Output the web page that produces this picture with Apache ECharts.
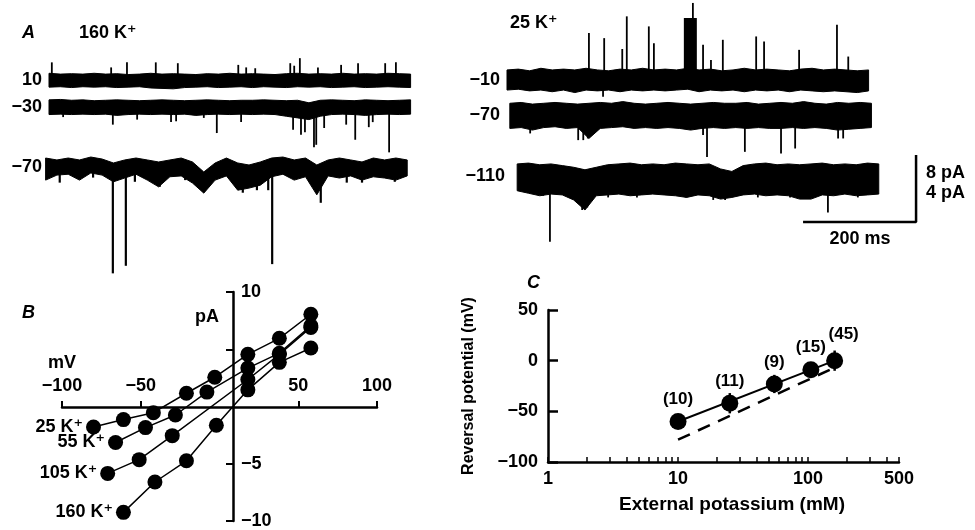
<!DOCTYPE html>
<html>
<head>
<meta charset="utf-8">
<title>K+ channel currents</title>
<script src="https://cdn.jsdelivr.net/npm/echarts@6/dist/echarts.min.js"></script>
<style>
  html, body { margin: 0; padding: 0; background: #fff; }
  #chart { width: 975px; height: 530px; }
</style>
</head>
<body>
<div id="chart"></div>
<script>
// ---------- panel A: single channel records ----------
// band edges (pA from the trace baseline) sampled every 20 ms, spikes as [ms, pA]
const SAMPLE_MS = 20;

// 160 K+ : holding 10, -30, -70
const leftLabels = ['10', '\u221230', '\u221270'];
const leftStart = [0, 0, -6];
const l10Up = [0.8,0.7,0.75,0.7,0.8,0.7,0.75,0.65,0.7,0.8,0.7,0.75,0.7,0.65,0.75,0.7,0.8,0.7,0.75,0.7,0.65,0.75,0.8,0.7,0.75,0.7,0.8,0.7,0.75,0.7,0.8,0.75,0.7];
const l10Lo = [-0.85,-0.8,-0.9,-0.8,-0.85,-0.8,-0.9,-0.85,-0.8,-0.95,-1.0,-1.05,-0.9,-0.85,-0.8,-0.9,-0.85,-0.8,-0.9,-0.8,-0.85,-0.9,-0.8,-0.85,-0.8,-0.9,-0.85,-0.8,-0.9,-0.85,-0.8,-0.85,-0.9];
const l10Spikes = [[5,2.1],[110,1.5],[138,2.1],[189,2.1],[228,2.0],[335,1.8],[349,1.5],[365,1.4],[427,2.0],[434,1.7],[444,2.6],[476,1.5],[517,1.8],[547,2.0],[595,2.0],[614,2.1]];
const l30Up = [0.85,0.9,0.8,0.85,0.75,0.8,0.85,0.8,0.75,0.8,0.85,0.8,0.75,0.8,0.85,0.8,0.75,0.8,0.8,0.85,0.8,0.75,0.8,0.5,0.8,0.85,0.8,0.75,0.85,0.8,0.75,0.8,0.85];
const l30Lo = [-0.9,-0.85,-0.9,-0.85,-0.9,-0.85,-1.0,-0.9,-0.85,-0.9,-0.85,-0.9,-0.85,-1.0,-0.9,-0.85,-0.9,-0.85,-0.9,-0.85,-0.9,-1.1,-1.3,-1.5,-1.1,-0.9,-0.85,-0.9,-1.0,-0.9,-0.85,-0.9,-0.85];
const l30Spikes = [[25,-1.2],[113,-2.1],[156,-1.5],[216,-1.8],[225,-1.7],[274,-1.3],[297,-3.1],[340,-1.8],[432,-2.7],[446,-3.3],[453,-3.0],[469,-4.8],[473,-4.5],[487,-2.5],[526,-2.1],[542,-3.9],[566,-2.4],[573,-1.8],[602,-5.4]];
const l70Up = [0.83,0.6,0.83,0.6,0.95,0.71,0.24,0.6,0.83,0.6,0.36,0.6,0.83,0.36,-0.83,0.24,0.83,0.24,0,0.36,0.83,0.95,0.6,0.83,0,0.6,0.83,0.6,0.36,0.83,0.6,0.83,0.6];
const l70Lo = [-1.8,-1.2,-1.1,-1.8,-0.95,-1.2,-2.0,-1.55,-1.1,-1.8,-2.6,-1.4,-1.3,-2.15,-3.35,-1.8,-1.3,-3.0,-2.75,-2.4,-1.4,-1.1,-1.8,-1.4,-3.55,-1.3,-1.55,-1.3,-1.8,-1.4,-1.55,-1.8,-1.3];
const l70Spikes = [[19,-2.1],[78,-1.5],[113,-12.9],[136,-12.0],[152,-2.0],[196,-2.6],[241,-1.8],[343,-3.3],[368,-3.0],[388,-3.0],[395,-11.8],[481,-4.5],[527,-2.1],[554,-2.1],[612,-2.0]];

// 25 K+ : holding -10, -70, -110
const rightLabels = ['\u221210', '\u221270', '\u2212110'];
const rightStart = [0, 5, 18];
const r10Up = [0.6,0.65,0.55,0.7,0.6,0.65,0.6,0.7,0.6,0.55,0.65,0.6,0.7,0.6,0.65,0.6,0.7,0.6,0.65,0.55,0.6,0.7,0.6,0.65,0.6,0.55,0.65,0.7,0.6,0.65,0.6,0.55,0.6];
const r10Lo = [-0.6,-0.55,-0.65,-0.6,-0.7,-0.6,-0.75,-0.6,-0.65,-0.6,-0.7,-0.6,-0.65,-0.6,-0.65,-0.6,-0.55,-0.7,-0.6,-0.65,-0.6,-0.7,-0.6,-0.65,-0.6,-0.7,-0.6,-0.65,-0.7,-0.65,-0.7,-0.75,-0.65];
const r10Spikes = [[145,2.8],[170,-1.0],[172,2.5],[204,1.85],[212,3.8],[251,3.2],[260,2.2],[329,4.6],[347,2.1],[361,1.2],[382,2.4],[441,2.6],[455,2.3],[517,1.8],[584,3.3],[604,1.4]];
const r10Burst = [[313, 336, 3.7]];   // [from ms, to ms, pA]
const r70Up = [0.7,0.75,0.65,0.7,0.75,0.7,0.65,0.7,0.75,0.7,0.8,0.7,0.65,0.7,0.75,0.7,0.65,0.7,0.75,0.7,0.7,0.75,0.65,0.7,0.75,0.7,0.8,0.7,0.65,0.75,0.7,0.75,0.7];
const r70Lo = [-0.8,-0.75,-0.9,-0.75,-0.7,-0.8,-0.75,-1.4,-0.8,-0.75,-0.7,-0.8,-0.75,-0.8,-0.75,-0.8,-0.9,-0.8,-0.75,-0.8,-0.75,-0.8,-0.75,-0.8,-0.8,-0.75,-0.8,-0.75,-0.8,-0.9,-0.85,-0.8,-0.75];
const r70Spikes = [[41,-1.1],[126,-1.5],[135,-1.5],[143,-1.4],[347,-1.2],[354,-2.5],[421,-2.2],[485,-2.3],[510,-2.0],[586,-1.4],[595,-1.4]];
const r110Up = [0.9,0.95,0.85,0.9,0.8,0.7,0.55,0.7,0.85,0.9,0.95,0.85,0.9,0.85,0.95,0.9,0.85,0.9,0.6,0.45,0.8,0.9,0.95,0.85,0.9,0.85,0.9,0.95,0.85,0.9,0.85,0.95,0.9];
const r110Lo = [-0.7,-0.85,-1.0,-0.9,-0.95,-1.25,-1.85,-1.0,-0.95,-0.9,-1.0,-0.95,-0.9,-0.95,-1.0,-1.1,-0.95,-1.0,-1.2,-1.1,-0.95,-0.9,-1.0,-0.95,-1.0,-1.2,-1.2,-0.95,-1.0,-0.9,-1.0,-0.95,-0.9];
const r110Spikes = [[64,-1.0],[76,-3.75],[133,-1.85],[142,-1.7],[179,-1.1],[230,-1.1],[317,-1.1],[365,-1.25],[386,-1.25],[444,-1.1],[501,-1.1],[568,-2.0],[621,-1.1]];

const scaleBar = [200, 4];   // ms, pA (8 pA for the 160 K+ records)

// ---------- panel B: I-V relations ----------
const ivNames = ['25 K\u207a', '55 K\u207a', '105 K\u207a', '160 K\u207a'];
const ivMv25 = [-80, -61, -42, -21, -3, 18, 38, 58];
const ivPa25 = [-1.75, -1.1, -0.5, 1.2, 2.6, 4.6, 6.0, 8.1];
const ivMv55 = [-66, -47, -28, -8, 18, 38, 58];
const ivPa55 = [-3.1, -1.8, -0.7, 1.3, 3.4, 4.7, 7.1];
const ivMv105 = [-71, -51, -30, 18, 38, 58];
const ivPa105 = [-5.8, -4.6, -2.5, 2.4, 4.6, 6.95];
const ivMv160 = [-61, -41, -21, -2, 18, 38, 58];
const ivPa160 = [-9.2, -6.55, -4.7, -1.6, 1.5, 3.9, 5.15];

// ---------- panel C: reversal potential vs [K]o ----------
const kOut = [10, 25, 55, 105, 160];
const eRev = [-60, -42, -23, -9, 0];
const eRevErr = [0, 10, 9, 7, 10];
const nCells = ['(10)', '(11)', '(9)', '(15)', '(45)'];
const fitLine = [[10, -60], [160, 0]];
const nernstLine = [[10, -78], [165, -6]];
const kTickLabels = [1, 10, 100, 500];
const kMinorTicks = [2, 3, 4, 5, 6, 7, 8, 9, 20, 30, 40, 50, 60, 70, 80, 90, 200, 300, 400];

// ---------- layout ----------
const INK = '#000';
const FONT = '"Liberation Sans", "DejaVu Sans", Arial, sans-serif';
const PX_MS = 113 / 200;          // scale bar width / 200 ms
const PX_PA_L = 8.4, PX_PA_R = 16.75;
const leftBase = [0, -27 / PX_PA_L, -85 / PX_PA_L];
const rightBase = [0, -35 / PX_PA_R, -99 / PX_PA_R];

// whole noise band of one record as a single polygon
function bandSeries(ax, t0, up, lo, base) {
  const data = up.map((u, i) => [t0 + SAMPLE_MS * i, base + u, base + lo[i]]);
  return {
    type: 'custom', xAxisIndex: ax, yAxisIndex: ax, silent: true, clip: false,
    encode: { x: 0, y: [1, 2] },
    data: data,
    renderItem: function (params, api) {
      if (params.dataIndex !== 0) return null;
      const top = data.map(d => api.coord([d[0], d[1]]));
      const bot = data.map(d => api.coord([d[0], d[2]])).reverse();
      return { type: 'polygon', shape: { points: top.concat(bot) }, style: { fill: INK, stroke: INK, lineWidth: 1 } };
    }
  };
}

function spikeSeries(ax, spikes, base, width) {
  return {
    type: 'custom', xAxisIndex: ax, yAxisIndex: ax, silent: true, clip: false,
    encode: { x: 0, y: [1, 2] },
    data: spikes.map(s => [s[0], base, base + s[1]]),
    renderItem: function (params, api) {
      const a = api.coord([api.value(0), api.value(1)]);
      const b = api.coord([api.value(0), api.value(2)]);
      return { type: 'line', shape: { x1: a[0], y1: a[1], x2: b[0], y2: b[1] }, style: { stroke: INK, lineWidth: width || 1.8 } };
    }
  };
}

function burstSeries(ax, bursts, base) {
  return {
    type: 'custom', xAxisIndex: ax, yAxisIndex: ax, silent: true,
    data: bursts.map(b => [b[0], b[1], base, base + b[2]]),
    renderItem: function (params, api) {
      const p0 = api.coord([api.value(0), api.value(3)]);
      const p1 = api.coord([api.value(1), api.value(2)]);
      return { type: 'rect', shape: { x: p0[0], y: p0[1], width: p1[0] - p0[0], height: p1[1] - p0[1] }, style: { fill: INK } };
    }
  };
}

function txt(x, y, text, o) {
  o = o || {};
  return {
    type: 'text', x: x, y: y, rotation: o.rot || 0, silent: true,
    style: {
      text: text, fill: INK, align: o.align || 'left', verticalAlign: 'middle',
      font: (o.italic ? 'italic ' : '') + 'bold ' + (o.size || 18) + 'px ' + FONT
    }
  };
}

const series = [];
const leftUp = [l10Up, l30Up, l70Up], leftLo = [l10Lo, l30Lo, l70Lo], leftSpk = [l10Spikes, l30Spikes, l70Spikes];
for (let i = 0; i < 3; i++) {
  series.push(bandSeries(0, leftStart[i], leftUp[i], leftLo[i], leftBase[i]));
  series.push(spikeSeries(0, leftSpk[i], leftBase[i], i === 2 ? 2.2 : 1.8));
}
const rightUp = [r10Up, r70Up, r110Up], rightLo = [r10Lo, r70Lo, r110Lo], rightSpk = [r10Spikes, r70Spikes, r110Spikes];
for (let i = 0; i < 3; i++) {
  series.push(bandSeries(1, rightStart[i], rightUp[i], rightLo[i], rightBase[i]));
  series.push(spikeSeries(1, rightSpk[i], rightBase[i], 1.8));
}
series.push(burstSeries(1, r10Burst, rightBase[0]));

// scale bar, corner placed under the right-hand records
const barX = 724, barY = -142 / PX_PA_R;
series.push({
  type: 'line', xAxisIndex: 1, yAxisIndex: 1, silent: true, symbol: 'none', clip: false,
  lineStyle: { color: INK, width: 2.5 },
  data: [[barX - scaleBar[0], barY], [barX, barY], [barX, barY + scaleBar[1]]]
});

// panel B: grid covers the negative half, the x axis sits on its top edge (0 pA)
const ivMv = [ivMv25, ivMv55, ivMv105, ivMv160];
const ivPa = [ivPa25, ivPa55, ivPa105, ivPa160];
ivNames.forEach((name, k) => {
  series.push({
    name: name, type: 'line', xAxisIndex: 2, yAxisIndex: 2, silent: true, clip: false,
    symbol: 'circle', symbolSize: 15,
    lineStyle: { color: INK, width: 1.5 }, itemStyle: { color: INK, opacity: 1 },
    data: ivMv[k].map((v, i) => i === 0 ? {
      value: [v, ivPa[k][i]],
      label: { show: true, position: 'left', distance: 3, formatter: name, color: INK, fontFamily: FONT, fontWeight: 'bold', fontSize: 18 }
    } : [v, ivPa[k][i]])
  });
});

// panel C (x axis in log10 units)
const lg = Math.log10;
series.push({
  type: 'line', xAxisIndex: 4, yAxisIndex: 4, silent: true, symbol: 'none',
  lineStyle: { color: INK, width: 2.5, type: [13, 9] },
  data: nernstLine.map(p => [lg(p[0]), p[1]])
});
series.push({
  type: 'line', xAxisIndex: 4, yAxisIndex: 4, silent: true, symbol: 'none',
  lineStyle: { color: INK, width: 2 },
  data: fitLine.map(p => [lg(p[0]), p[1]])
});
series.push({
  type: 'custom', xAxisIndex: 4, yAxisIndex: 4, silent: true,
  data: kOut.map((k, i) => [lg(k), eRev[i] - eRevErr[i], eRev[i] + eRevErr[i]]),
  renderItem: function (params, api) {
    const a = api.coord([api.value(0), api.value(1)]);
    const b = api.coord([api.value(0), api.value(2)]);
    return { type: 'line', shape: { x1: a[0], y1: a[1], x2: b[0], y2: b[1] }, style: { stroke: INK, lineWidth: 2.5 } };
  }
});
series.push({
  type: 'scatter', xAxisIndex: 4, yAxisIndex: 4, silent: true, symbolSize: 17,
  itemStyle: { color: INK, opacity: 1 }, z: 5,
  label: {
    show: true, position: 'top', distance: 5, color: INK, opacity: 1, fontFamily: FONT, fontWeight: 'bold', fontSize: 17,
    formatter: p => nCells[p.dataIndex]
  },
  data: kOut.map((k, i) => i === kOut.length - 1
    ? { value: [lg(k), eRev[i]], label: { offset: [9, -4] } }
    : [lg(k), eRev[i]])
});

const labelFont = { color: INK, fontFamily: FONT, fontWeight: 'bold', fontSize: 18 };
const minus = v => String(v).replace('-', '\u2212');

const option = {
  animation: false,
  backgroundColor: '#fff',
  textStyle: { fontFamily: FONT },
  grid: [
    { left: 49 - 10 * PX_MS, top: 0, width: 650 * PX_MS, height: 280 },
    { left: 507 - 10 * PX_MS, top: 0, width: 750 * PX_MS, height: 250 },
    { left: 62, top: 407, width: 315, height: 114.5 },
    { left: 233, top: 292, width: 1, height: 229 },
    { left: 548, top: 310, width: 351, height: 152 }
  ],
  xAxis: [
    { gridIndex: 0, type: 'value', min: -10, max: 640, show: false },
    { gridIndex: 1, type: 'value', min: -10, max: 740, show: false },
    {
      gridIndex: 2, type: 'value', min: -100, max: 100, position: 'top',
      axisLine: { onZero: false, lineStyle: { color: INK, width: 2.5 } },
      axisTick: { inside: false, length: 6, lineStyle: { color: INK, width: 2 }, customValues: [-100, -50, 50, 100] },
      axisLabel: Object.assign({ margin: 12, customValues: [-100, -50, 50, 100], formatter: minus }, labelFont),
      splitLine: { show: false }
    },
    { gridIndex: 3, type: 'value', min: 0, max: 1, show: false },
    {
      gridIndex: 4, type: 'value', min: 0, max: lg(500),
      axisLine: { onZero: false, lineStyle: { color: INK, width: 2.5 } },
      axisTick: { inside: true, length: 5, lineStyle: { color: INK, width: 1.5 }, customValues: kTickLabels.concat(kMinorTicks).map(lg) },
      axisLabel: Object.assign({ margin: 8, customValues: kTickLabels.map(lg), formatter: v => String(Math.round(Math.pow(10, v))) }, labelFont),
      splitLine: { show: false }
    }
  ],
  yAxis: [
    { gridIndex: 0, type: 'value', min: -200 / PX_PA_L, max: 80 / PX_PA_L, show: false },
    { gridIndex: 1, type: 'value', min: -170 / PX_PA_R, max: 80 / PX_PA_R, show: false },
    { gridIndex: 2, type: 'value', min: -10, max: 0, show: false },
    {
      gridIndex: 3, type: 'value', min: -10, max: 10, position: 'left',
      axisLine: { show: true, onZero: false, lineStyle: { color: INK, width: 2.5 } },
      axisTick: { show: true, length: 7, lineStyle: { color: INK, width: 2 }, customValues: [-10, -5, 5, 10] },
      axisLabel: Object.assign({ inside: true, margin: 8, customValues: [-10, -5, 10], formatter: minus }, labelFont),
      splitLine: { show: false }
    },
    {
      gridIndex: 4, type: 'value', min: -100, max: 50, interval: 50,
      axisLine: { show: true, onZero: false, lineStyle: { color: INK, width: 2.5 } },
      axisTick: { show: true, inside: true, length: 10, lineStyle: { color: INK, width: 2.5 } },
      axisLabel: Object.assign({ margin: 10, formatter: minus }, labelFont),
      splitLine: { show: false }
    }
  ],
  graphic: [
    txt(22, 33, 'A', { italic: true }),
    txt(79, 33, '160 K\u207a'),
    txt(42, 80, leftLabels[0], { align: 'right' }),
    txt(42, 107, leftLabels[1], { align: 'right' }),
    txt(42, 167, leftLabels[2], { align: 'right' }),
    txt(510, 23, '25 K\u207a'),
    txt(500, 80, rightLabels[0], { align: 'right' }),
    txt(500, 115, rightLabels[1], { align: 'right' }),
    txt(505, 176, rightLabels[2], { align: 'right' }),
    txt(926, 173, '8 pA'),
    txt(926, 193, '4 pA'),
    txt(860, 239, '200 ms', { align: 'center' }),
    txt(22, 313, 'B', { italic: true }),
    txt(62, 363, 'mV', { align: 'center' }),
    txt(207, 317, 'pA', { align: 'center' }),
    txt(527, 283, 'C', { italic: true }),
    txt(469, 386, 'Reversal potential (mV)', { align: 'center', rot: Math.PI / 2, size: 16 }),
    txt(732, 505, 'External potassium (mM)', { align: 'center', size: 19 })
  ],
  series: series
};

const chart = echarts.init(document.getElementById('chart'), null, { renderer: 'canvas' });
chart.setOption(option);
</script>
</body>
</html>
